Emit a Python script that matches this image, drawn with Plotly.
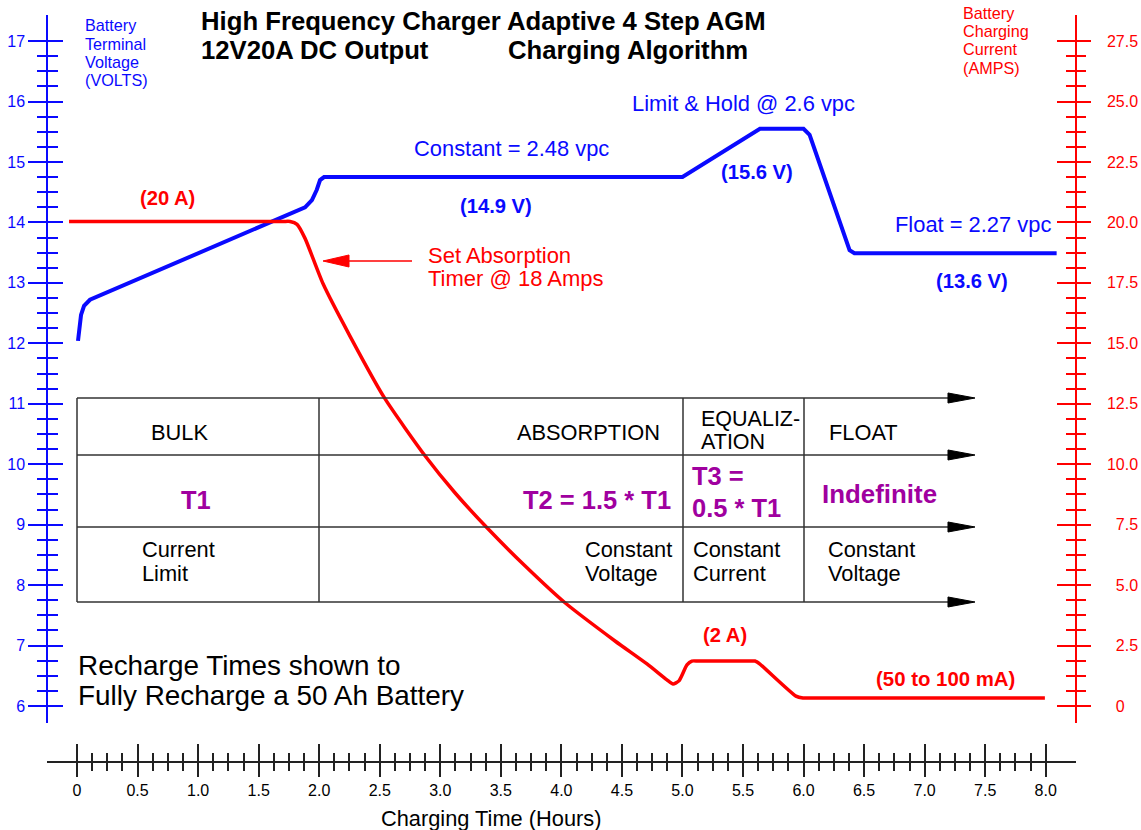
import plotly.graph_objects as go

# ---------------- data ----------------
volt_hours = [0.008, 0.033, 0.058, 0.107, 1.883, 1.94, 1.98, 2.007, 2.04, 5.0, 5.64, 6.0, 6.05, 6.38, 6.42, 8.09]
volts = [12.04, 12.47, 12.62, 12.72, 14.25, 14.37, 14.54, 14.70, 14.75, 14.75, 15.55, 15.55, 15.45, 13.54, 13.49, 13.49]

amp_hours = [-0.066, 1.70, 1.759, 1.817, 1.883, 2.031, 2.254, 2.543, 2.874, 3.121, 3.386, 3.699, 4.030, 4.443,
             4.707, 4.872, 4.922, 4.971, 5.037, 5.078, 5.13, 5.55, 5.599, 5.64, 5.937, 5.995, 6.06, 7.993]
amps = [20.04, 20.04, 20.04, 19.92, 19.34, 17.47, 15.30, 12.71, 10.35, 8.82, 7.37, 5.80, 4.27, 2.69,
        1.74, 1.08, 0.91, 1.04, 1.70, 1.86, 1.86, 1.86, 1.86, 1.73, 0.41, 0.33, 0.33, 0.33]

hour_ticks = [i * 0.5 for i in range(17)]
hour_labels = ["0", "0.5", "1.0", "1.5", "2.0", "2.5", "3.0", "3.5", "4.0", "4.5",
               "5.0", "5.5", "6.0", "6.5", "7.0", "7.5", "8.0"]
volt_ticks = list(range(6, 18))
volt_labels = [str(v) for v in volt_ticks]
amp_ticks = [i * 2.5 for i in range(12)]
amp_labels = ["0", "2.5", "5.0", "7.5", "10.0", "12.5", "15.0", "17.5", "20.0", "22.5", "25.0", "27.5"]

hour_minor = [k * 0.125 for k in range(65) if k % 4 != 0]
volt_minor = [6 + k * 0.25 for k in range(45) if k % 4 != 0]
amp_minor = [k * 0.625 for k in range(45) if k % 4 != 0]

# right-hand labels are right-aligned: pad short ones with a figure space
amp_text = [("\u2007" + t) if len(t) < 4 else t for t in amp_labels]

# ---------------- geometry (screen pixels of the target) ----------------
W, H = 1141, 830
L, R, T, B = 47, 1076, 15, 762          # plot area on screen
PW, PH = R - L, B - T
X0, X1 = -0.248, 8.25
V0, V1 = 5.719, 17.431
I0, I1 = (V0 - 6) * 2.5, (V1 - 6) * 2.5
YD0 = (B - 723) / PH

FONT = "Liberation Sans, Arial, sans-serif"
BLUE = "#0a0aff"
RED = "#ff0000"
PURPLE = "#a0009f"
BLACK = "#000000"


def px(xp):
    return (xp - L) / PW


def py(yp):
    return (B - yp) / PH


def ann(text, x, y, size, color=BLACK, bold=False, xanchor="left", yanchor="middle"):
    return dict(text=("<b>%s</b>" % text) if bold else text, x=px(x), y=py(y),
                xref="paper", yref="paper", showarrow=False, xanchor=xanchor, yanchor=yanchor,
                borderpad=0, font=dict(size=size, color=color, family=FONT))


fig = go.Figure()
fig.add_trace(go.Scatter(x=volt_hours, y=volts, mode="lines", line=dict(color=BLUE, width=4),
                         xaxis="x", yaxis="y", hoverinfo="skip"))
fig.add_trace(go.Scatter(x=amp_hours, y=amps, mode="lines",
                         line=dict(color=RED, width=3.5, shape="spline", smoothing=0.6),
                         xaxis="x", yaxis="y2", hoverinfo="skip"))
fig.add_trace(go.Scatter(x=[None], y=[None], xaxis="x2", yaxis="y3", hoverinfo="skip"))
fig.add_trace(go.Scatter(x=[None], y=[None], xaxis="x", yaxis="y4", hoverinfo="skip"))

tickfont = dict(size=16, family=FONT)

fig.update_layout(
    width=W, height=H, margin=dict(l=L, r=W - R, t=T, b=H - B, pad=0),
    paper_bgcolor="white", plot_bgcolor="white", showlegend=False,
    xaxis=dict(range=[X0, X1], anchor="free", position=0, automargin=False,
               showline=True, linecolor="#222", linewidth=1.5,
               ticks="outside", ticklen=14, tickwidth=1.5, tickcolor="#222",
               tickmode="array", tickvals=hour_ticks, ticktext=hour_labels,
               tickfont=dict(tickfont, color=BLACK),
               minor=dict(tickmode="array", tickvals=hour_minor, ticks="outside", ticklen=8,
                          tickwidth=1.5, tickcolor="#222", showgrid=False),
               showgrid=False, zeroline=False),
    xaxis2=dict(range=[X0, X1], overlaying="x", anchor="free", position=0, automargin=False,
                showline=False,
                ticks="inside", ticklen=18, tickwidth=1.5, tickcolor="#222",
                tickmode="array", tickvals=hour_ticks, showticklabels=False,
                minor=dict(tickmode="array", tickvals=hour_minor, ticks="inside", ticklen=9,
                           tickwidth=1.5, tickcolor="#222", showgrid=False),
                showgrid=False, zeroline=False),
    yaxis=dict(domain=[YD0, 1], range=[V0, V1], anchor="free", position=0, side="left",
               automargin=False, showline=True, linecolor=BLUE, linewidth=1.5,
               ticks="outside", ticklen=18, tickwidth=1.5, tickcolor=BLUE,
               tickmode="array", tickvals=volt_ticks, ticktext=volt_labels,
               tickfont=dict(tickfont, color=BLUE), ticklabelstandoff=0,
               minor=dict(tickmode="array", tickvals=volt_minor, ticks="outside", ticklen=9,
                          tickwidth=1.5, tickcolor=BLUE, showgrid=False),
               showgrid=False, zeroline=False),
    yaxis3=dict(range=[V0, V1], overlaying="y", anchor="free", position=0, side="left",
                automargin=False, showline=False,
                ticks="inside", ticklen=15, tickwidth=1.5, tickcolor=BLUE,
                tickmode="array", tickvals=volt_ticks, showticklabels=False,
                minor=dict(tickmode="array", tickvals=volt_minor, ticks="inside", ticklen=10,
                           tickwidth=1.5, tickcolor=BLUE, showgrid=False),
                showgrid=False, zeroline=False),
    yaxis2=dict(range=[I0, I1], overlaying="y", anchor="free", position=1, side="right",
                automargin=False, showline=True, linecolor=RED, linewidth=1.5,
                ticks="outside", ticklen=14, tickwidth=1.5, tickcolor=RED,
                tickmode="array", tickvals=amp_ticks, ticktext=amp_text,
                tickfont=dict(tickfont, color=RED), ticklabelstandoff=13,
                minor=dict(tickmode="array", tickvals=amp_minor, ticks="outside", ticklen=9,
                           tickwidth=1.5, tickcolor=RED, showgrid=False),
                showgrid=False, zeroline=False),
    yaxis4=dict(range=[I0, I1], overlaying="y", anchor="free", position=1, side="right",
                automargin=False, showline=False,
                ticks="inside", ticklen=19, tickwidth=1.5, tickcolor=RED,
                tickmode="array", tickvals=amp_ticks, showticklabels=False,
                minor=dict(tickmode="array", tickvals=amp_minor, ticks="inside", ticklen=10,
                           tickwidth=1.5, tickcolor=RED, showgrid=False),
                showgrid=False, zeroline=False),
)

# ---------------- table (shapes) ----------------
shapes = []
row_y = [398, 455, 527, 602]
col_x = [77, 319, 683, 804]
tip, base = 975, 948
for yy in row_y:
    shapes.append(dict(type="line", xref="paper", yref="paper", x0=px(77), x1=px(base + 2),
                       y0=py(yy), y1=py(yy), line=dict(color="#333", width=1.5)))
    shapes.append(dict(type="path", xref="paper", yref="paper",
                       path="M %f,%f L %f,%f L %f,%f Z" % (px(tip), py(yy), px(base), py(yy - 5),
                                                          px(base), py(yy + 5)),
                       fillcolor="black", line=dict(color="black", width=1)))
for xx in col_x:
    shapes.append(dict(type="line", xref="paper", yref="paper", x0=px(xx), x1=px(xx),
                       y0=py(398), y1=py(602), line=dict(color="#333", width=1.5)))
# red pointer arrow
shapes.append(dict(type="line", xref="paper", yref="paper", x0=px(345), x1=px(412),
                   y0=py(261), y1=py(261), line=dict(color=RED, width=1.5)))
shapes.append(dict(type="path", xref="paper", yref="paper",
                   path="M %f,%f L %f,%f L %f,%f Z" % (px(323), py(261), px(349), py(255),
                                                      px(349), py(267)),
                   fillcolor=RED, line=dict(color=RED, width=1)))
fig.update_layout(shapes=shapes)

# ---------------- text ----------------
A = []
A.append(ann("High Frequency Charger Adaptive 4 Step AGM", 200, 21, 25.7, bold=True))
A.append(ann("12V20A DC Output", 200, 50, 25.7, bold=True))
A.append(ann("Charging Algorithm", 507, 50, 25.7, bold=True))
for i, t in enumerate(["Battery", "Terminal", "Voltage", "(VOLTS)"]):
    A.append(ann(t, 84, 25 + i * 18.5, 16.2, color=BLUE))
for i, t in enumerate(["Battery", "Charging", "Current", "(AMPS)"]):
    A.append(ann(t, 962, 13 + i * 18.2, 16.2, color=RED))
A.append(ann("Charging Time (Hours)", 491, 818, 21.8, xanchor="center"))
A.append(ann("(20 A)", 167, 198, 20.2, color=RED, bold=True, xanchor="center"))
A.append(ann("Constant = 2.48 vpc", 511, 148, 21.9, color=BLUE, xanchor="center"))
A.append(ann("(14.9 V)", 496, 206, 20.2, color=BLUE, bold=True, xanchor="center"))
A.append(ann("Set Absorption", 427, 255, 22, color=RED))
A.append(ann("Timer @ 18 Amps", 427, 279, 22, color=RED))
A.append(ann("Limit & Hold @ 2.6 vpc", 743, 103, 21.9, color=BLUE, xanchor="center"))
A.append(ann("(15.6 V)", 757, 172, 20.2, color=BLUE, bold=True, xanchor="center"))
A.append(ann("Float = 2.27 vpc", 1052, 224, 21.9, color=BLUE, xanchor="right"))
A.append(ann("(13.6 V)", 972, 281, 20.2, color=BLUE, bold=True, xanchor="center"))
A.append(ann("(2 A)", 725, 635, 20.2, color=RED, bold=True, xanchor="center"))
A.append(ann("(50 to 100 mA)", 945, 679, 20.4, color=RED, bold=True, xanchor="center"))
A.append(ann("BULK", 179, 432, 21.8, xanchor="center"))
A.append(ann("ABSORPTION", 661, 432, 21.8, xanchor="right"))
A.append(ann("EQUALIZ-", 700, 419, 21.5))
A.append(ann("ATION", 700, 442, 21.5))
A.append(ann("FLOAT", 828, 432, 21.8))
A.append(ann("T1", 196, 500, 25.5, color=PURPLE, bold=True, xanchor="center"))
A.append(ann("T2 = 1.5 * T1", 672, 500, 25.5, color=PURPLE, bold=True, xanchor="right"))
A.append(ann("T3 =", 691, 476, 25.5, color=PURPLE, bold=True))
A.append(ann("0.5 * T1", 691, 508, 25.5, color=PURPLE, bold=True))
A.append(ann("Indefinite", 821, 494, 25.9, color=PURPLE, bold=True))
A.append(ann("Current", 141, 549, 21.8))
A.append(ann("Limit", 141, 573, 21.8))
A.append(ann("Constant", 584, 549, 21.8))
A.append(ann("Voltage", 584, 573, 21.8))
A.append(ann("Constant", 692, 549, 21.8))
A.append(ann("Current", 692, 573, 21.8))
A.append(ann("Constant", 827, 549, 21.8))
A.append(ann("Voltage", 827, 573, 21.8))
A.append(ann("Recharge Times shown to", 77, 665, 27.9))
A.append(ann("Fully Recharge a 50 Ah Battery", 77, 695, 27.9))
fig.update_layout(annotations=A)

# the page's default 8px body margin would shift the fixed-size figure; remove it
fig.write_html("out.html", config={"displayModeBar": False},
               post_script="document.body.style.margin='0px';document.body.style.overflow='hidden';")
